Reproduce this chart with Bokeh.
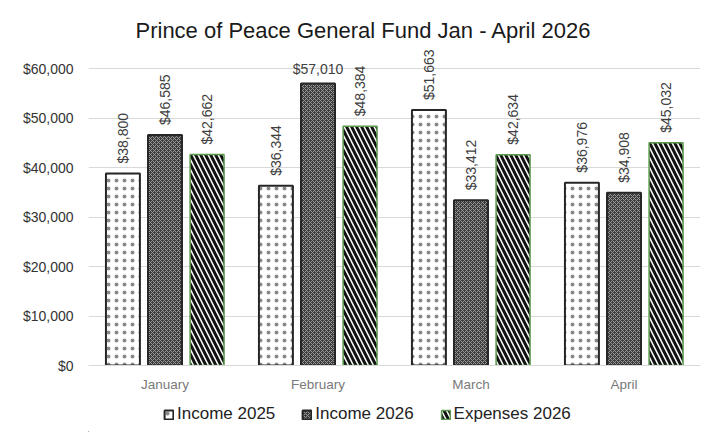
import math
from bokeh.plotting import figure
from bokeh.layouts import column
from bokeh.models import ColumnDataSource, LabelSet, NumeralTickFormatter, FixedTicker, Legend, LegendItem, Range1d
from bokeh.core.properties import value
from bokeh.transform import dodge
from bokeh.embed import file_html
from bokeh.resources import INLINE

months = ["January", "February", "March", "April"]
income_2025 = [38800, 36344, 51663, 36976]
income_2026 = [46585, 57010, 33412, 34908]
expenses_2026 = [42662, 48384, 42634, 45032]
y_ticks = [0, 10000, 20000, 30000, 40000, 50000, 60000]
series = ["Income 2025", "Income 2026", "Expenses 2026"]

def fmt(v):
    return "${:,}".format(v)

src = ColumnDataSource(dict(month=months, inc25=income_2025, inc26=income_2026, exp26=expenses_2026))

FONT = "Liberation Sans"
STYLES = [
    dict(fill_color="white", line_color="#262626", line_width=2,
         hatch_pattern="dot", hatch_color="#8a8a8a", hatch_scale=8, hatch_weight=0.6),
    dict(fill_color="#3c3c3c", line_color="#262626", line_width=2,
         hatch_pattern="diagonal_cross", hatch_color="#9a9a9a", hatch_scale=4, hatch_weight=1),
    dict(fill_color="white", line_color="#5b9a4e", line_width=1.5,
         hatch_pattern="left_diagonal_line", hatch_color="#111111", hatch_scale=10, hatch_weight=3),
]

p = figure(x_range=months, y_range=Range1d(0, 64300), width=705, height=400,
           output_backend="svg", toolbar_location=None,
           min_border_left=88, min_border_right=5, min_border_top=47, min_border_bottom=35,
           border_fill_color="white")
p.outline_line_color = None
p.title.text = "Prince of Peace General Fund Jan - April 2026"
p.title.align = "left"
p.title.offset = 47
p.title.text_font = FONT
p.title.text_font_size = "22px"
p.title.text_font_style = "normal"
p.title.text_color = "#1a1a1a"

off = 0.275
w = 0.222
keys = ["inc25", "inc26", "exp26"]
offsets = [-off, 0, off]
for k, dx, st in zip(keys, offsets, STYLES):
    p.vbar(x=dodge("month", dx, range=p.x_range), top=k, width=w, source=src, **st)

# rotated value labels (labels that would run past the top are drawn flat instead)
limit = 55000
for vals, dx in zip((income_2025, income_2026, expenses_2026), offsets):
    rot = [(m, v) for m, v in zip(months, vals) if v <= limit]
    flat = [(m, v) for m, v in zip(months, vals) if v > limit]
    if rot:
        s = ColumnDataSource(dict(month=[m for m, _ in rot], v=[v for _, v in rot],
                                  t=[fmt(v) for _, v in rot]))
        p.add_layout(LabelSet(x=dodge("month", dx, range=p.x_range), y="v", text="t", source=s,
                              angle=math.pi / 2, text_align="left", text_baseline="middle",
                              y_offset=10, text_font=value(FONT), text_font_size="14px",
                              text_color="#404040"))
    if flat:
        s = ColumnDataSource(dict(month=[m for m, _ in flat], v=[v for _, v in flat],
                                  t=[fmt(v) for _, v in flat]))
        p.add_layout(LabelSet(x=dodge("month", dx, range=p.x_range), y="v", text="t", source=s,
                              angle=0, text_align="center", text_baseline="bottom",
                              y_offset=7, text_font=value(FONT), text_font_size="14px",
                              text_color="#404040"))

p.yaxis.ticker = FixedTicker(ticks=y_ticks)
p.yaxis.formatter = NumeralTickFormatter(format="$0,0")
p.yaxis.axis_line_color = None
p.yaxis.major_tick_line_color = None
p.yaxis.minor_tick_line_color = None
p.yaxis.major_label_text_font = FONT
p.yaxis.major_label_text_font_size = "14px"
p.yaxis.major_label_text_color = "#333333"
p.yaxis.major_label_standoff = 9

p.xaxis.axis_line_color = "#d9d9d9"
p.xaxis.major_tick_line_color = None
p.xaxis.minor_tick_line_color = None
p.xaxis.major_label_text_font = FONT
p.xaxis.major_label_text_font_size = "13.5px"
p.xaxis.major_label_text_color = "#7a7a7a"
p.xaxis.major_label_standoff = 5

p.xgrid.grid_line_color = None
p.ygrid.grid_line_color = "#d9d9d9"
p.ygrid.ticker = FixedTicker(ticks=y_ticks)

# legend strip below the chart (its renderers hold zero-height bars outside the view)
lg = figure(width=705, height=32, x_range=Range1d(0, 1), y_range=Range1d(1, 2),
            output_backend="svg", toolbar_location=None,
            min_border_left=0, min_border_right=0, min_border_top=0, min_border_bottom=0,
            border_fill_color="white")
lg.axis.visible = False
lg.grid.visible = False
lg.outline_line_color = None
lsrc = ColumnDataSource(dict(x=[-5.0], y=[0.0]))
items = []
for name, st in zip(series, STYLES):
    r = lg.vbar(x="x", top="y", width=0.1, source=lsrc, **st)
    items.append(LegendItem(label=name, renderers=[r]))
legend = Legend(items=items, orientation="horizontal", location=(75, 8),
                label_text_font=FONT, label_text_font_size="17px", label_text_color="#222222",
                glyph_width=11, glyph_height=11, spacing=26, label_standoff=3,
                border_line_color=None, background_fill_alpha=0, padding=0, margin=0)
lg.add_layout(legend, "center")

layout = column(p, lg, spacing=0)
open("out.html", "w").write(file_html(layout, INLINE))
